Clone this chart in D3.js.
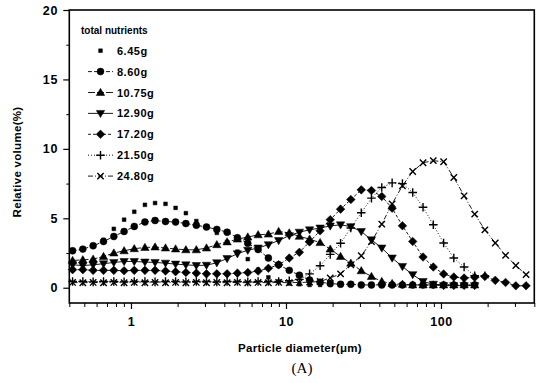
<!DOCTYPE html>
<html><head><meta charset="utf-8">
<script src="https://cdn.jsdelivr.net/npm/d3@7/dist/d3.min.js"></script>
<style>body{margin:0;background:#fff}svg{display:block}text{font-family:"Liberation Sans",Arial,sans-serif;fill:#000}</style>
</head><body>
<svg id="c" width="539" height="383"></svg>
<script>
// particle diameters (µm)
const diameters = [0.420,0.489,0.570,0.665,0.775,0.903,1.05,1.23,1.43,1.67,1.94,2.26,2.64,3.07,3.58,4.17,4.86,5.67,6.61,7.70,8.97,10.5,12.2,14.2,16.6,19.3,22.5,26.2,30.6,35.6,41.5,48.4,56.4,65.7,76.6,89.2,104,121,141,165,192,224,261,304,354];
const seriesNames = ["6.45g","8.60g","10.75g","12.90g","17.20g","21.50g","24.80g"];
const s645  = [2.65,2.8,3.0,3.45,4.24,4.9,5.47,5.97,6.1,6.04,5.75,5.37,4.8,4.4,3.95,3.3,2.6,2.06,1.3,0.75,0.45,0.3,0.25,0.2,0.2,0.2,0.2,0.2,0.2,0.2,0.2,0.2,0.2,0.2,0.2,0.2,0.2,0.2,0.2,0.2];
const s860  = [2.66,2.78,3.02,3.33,3.69,4.05,4.41,4.73,4.84,4.77,4.73,4.62,4.5,4.37,4.2,4.0,3.6,3.2,2.75,2.14,1.65,1.25,0.9,0.55,0.4,0.3,0.25,0.25,0.2,0.2,0.2,0.2,0.2,0.2,0.2,0.2,0.2,0.2,0.2,0.2];
const s1075 = [1.96,2.01,2.06,2.25,2.5,2.66,2.81,2.9,2.93,2.86,2.79,2.73,2.73,2.86,3.1,3.3,3.5,3.65,3.81,3.86,4.05,3.95,3.7,3.5,3.25,2.78,2.25,1.77,1.22,0.81,0.45,0.3,0.25,0.2,0.2,0.2,0.2,0.2,0.2,0.2];
const s1290 = [1.65,1.6,1.65,1.73,1.82,1.89,1.89,1.85,1.82,1.77,1.7,1.65,1.6,1.62,1.8,2.1,2.45,2.7,2.86,3.1,3.4,3.75,4.0,4.17,4.3,4.45,4.53,4.4,4.05,3.45,2.86,2.14,1.53,0.94,0.45,0.25,0.15,0.15,0.15,0.15];
const s1720 = [1.3,1.3,1.25,1.25,1.25,1.22,1.25,1.25,1.25,1.2,1.15,1.1,1.05,1.0,1.0,1.0,1.05,1.1,1.2,1.4,1.65,2.14,2.55,3.3,4.1,4.9,5.66,6.35,7.05,7.0,6.57,5.73,4.46,3.33,2.21,1.49,0.99,0.77,0.7,0.75,0.81,0.53,0.38,0.14,0.14];
const s2150 = [0.45,0.45,0.42,0.45,0.45,0.42,0.45,0.45,0.42,0.45,0.45,0.42,0.45,0.45,0.42,0.45,0.45,0.42,0.45,0.45,0.45,0.5,0.6,1.0,1.58,2.4,3.2,4.3,5.4,6.45,7.22,7.55,7.5,6.86,5.8,4.53,3.22,2.14,1.49,0.86,0.86];
const s2480 = [0.38,0.36,0.38,0.36,0.38,0.36,0.38,0.36,0.38,0.36,0.38,0.36,0.38,0.36,0.38,0.36,0.38,0.36,0.38,0.36,0.38,0.36,0.38,0.4,0.45,0.7,1.0,1.65,2.3,3.33,4.58,6.04,7.34,8.37,9.0,9.15,9.07,7.94,6.62,5.3,4.17,3.22,2.33,1.6,0.94];
const yTicks = [0,5,10,15,20];
const xTicks = [1,10,100];

const svg = d3.select("#c");
const x = d3.scaleLog().domain([0.4,400]).range([69.3,534.3]);
const y = d3.scaleLinear().domain([-1.1,20]).range([303,10]);

const symDown = {draw(c,s){const k=Math.sqrt(s/30); c.moveTo(-4.2*k,-3*k);c.lineTo(4.2*k,-3*k);c.lineTo(0,4.2*k);c.closePath();}};
const symUp = {draw(c,s){const k=Math.sqrt(s/30); c.moveTo(-4.2*k,3*k);c.lineTo(4.2*k,3*k);c.lineTo(0,-4.2*k);c.closePath();}};
const symDia = {draw(c,s){const k=Math.sqrt(s/30); c.moveTo(0,-4.3*k);c.lineTo(4.3*k,0);c.lineTo(0,4.3*k);c.lineTo(-4.3*k,0);c.closePath();}};
const styles = [
  {sym:d3.symbolSquare, size:14, fill:true, dash:null, line:false},
  {sym:d3.symbolCircle, size:38, fill:true, dash:"4,2", line:true},
  {sym:symUp, size:30, fill:true, dash:"7,2", line:true},
  {sym:symDown, size:30, fill:true, dash:null, line:true},
  {sym:symDia, size:30, fill:true, dash:"3,2", line:true},
  {sym:d3.symbolPlus, size:26, fill:false, dash:"1,2", line:true},
  {sym:d3.symbolTimes, size:28, fill:false, dash:"5,2,1,2", line:true}
];
const allSeries = [s645,s860,s1075,s1290,s1720,s2150,s2480];

const g = svg.append("g");
const plot = g.append("g");
allSeries.forEach((vals,k)=>{
  const st = styles[k];
  const pts = vals.map((v,i)=>[diameters[i],v]);
  if(st.line){
    plot.append("path").datum(pts)
      .attr("d", d3.line().x(d=>x(d[0])).y(d=>y(d[1])))
      .attr("fill","none").attr("stroke","#000").attr("stroke-width",0.9)
      .attr("stroke-dasharray",st.dash);
  }
  plot.selectAll(null).data(pts).enter().append("path")
    .attr("transform",d=>`translate(${x(d[0])},${y(d[1])})`)
    .attr("d", d3.symbol().type(st.sym).size(st.size))
    .attr("fill", st.fill?"#000":"none")
    .attr("stroke","#000").attr("stroke-width", st.fill?0.5:1.4);
});

// box
g.append("rect").attr("x",69.3).attr("y",10).attr("width",465).attr("height",293)
  .attr("fill","none").attr("stroke","#000").attr("stroke-width",1.6);

// y axis
const yAxis = d3.axisLeft(y).tickValues(yTicks).tickSize(6).tickPadding(5);
const ya = g.append("g").attr("transform","translate(69.3,0)").call(yAxis);
ya.select(".domain").remove();
ya.selectAll("text").attr("font-size",12.5).attr("font-weight","bold").attr("letter-spacing","0.8px");
ya.selectAll("line").attr("stroke-width",1.2);
const ym = g.append("g").attr("transform","translate(69.3,0)").call(d3.axisLeft(y).tickValues([2.5,7.5,12.5,17.5]).tickSize(3).tickFormat(""));
ym.select(".domain").remove();

// x axis
const xAxis = d3.axisBottom(x).tickValues(xTicks).tickSize(6).tickPadding(8).tickFormat(d3.format("d"));
const xa = g.append("g").attr("transform","translate(0,303)").call(xAxis);
xa.select(".domain").remove();
xa.selectAll("text").attr("font-size",12.5).attr("font-weight","bold").attr("letter-spacing","0.5px");
xa.selectAll("line").attr("stroke-width",1.2);
const minorX = [];
[0.1,1,10,100].forEach(b=>{for(let m=2;m<=9;m++){const v=b*m; if(v>=0.4&&v<=400) minorX.push(v);}});
const xm = g.append("g").attr("transform","translate(0,303)").call(d3.axisBottom(x).tickValues(minorX).tickSize(4).tickFormat(""));
xm.select(".domain").remove();

// titles
g.append("text").attr("x",300).attr("y",352).attr("text-anchor","middle")
  .attr("font-size",11.5).attr("font-weight","bold").attr("letter-spacing","0.3px").text("Particle diameter(\u03bcm)");
g.append("text").attr("x",302).attr("y",373).attr("text-anchor","middle")
  .style("font-family","'Liberation Serif','Times New Roman',serif").attr("font-size",15).text("(A)");
g.append("text").attr("transform","translate(21,162) rotate(-90)").attr("text-anchor","middle")
  .attr("font-size",11.5).attr("font-weight","bold").attr("letter-spacing","0.3px").text("Relative volume(%)");

// legend
const lg = g.append("g");
lg.append("text").attr("x",81).attr("y",34).attr("font-size",10).attr("font-weight","bold").text("total nutrients");
seriesNames.forEach((nm,k)=>{
  const st = styles[k];
  const cy = 50.7 + k*20.9;
  if(st.line){
    lg.append("line").attr("x1",88).attr("x2",113).attr("y1",cy).attr("y2",cy)
      .attr("stroke","#000").attr("stroke-width",0.9).attr("stroke-dasharray",st.dash);
  }
  lg.append("path").attr("transform",`translate(100.5,${cy})`)
    .attr("d", d3.symbol().type(st.sym).size(st.size))
    .attr("fill", st.fill?"#000":"none").attr("stroke","#000").attr("stroke-width", st.fill?0.5:1.4);
  lg.append("text").attr("x",117).attr("y",cy+4).attr("font-size",11).attr("font-weight","bold").attr("letter-spacing","0.5px").text(nm);
});
</script>
</body></html>
